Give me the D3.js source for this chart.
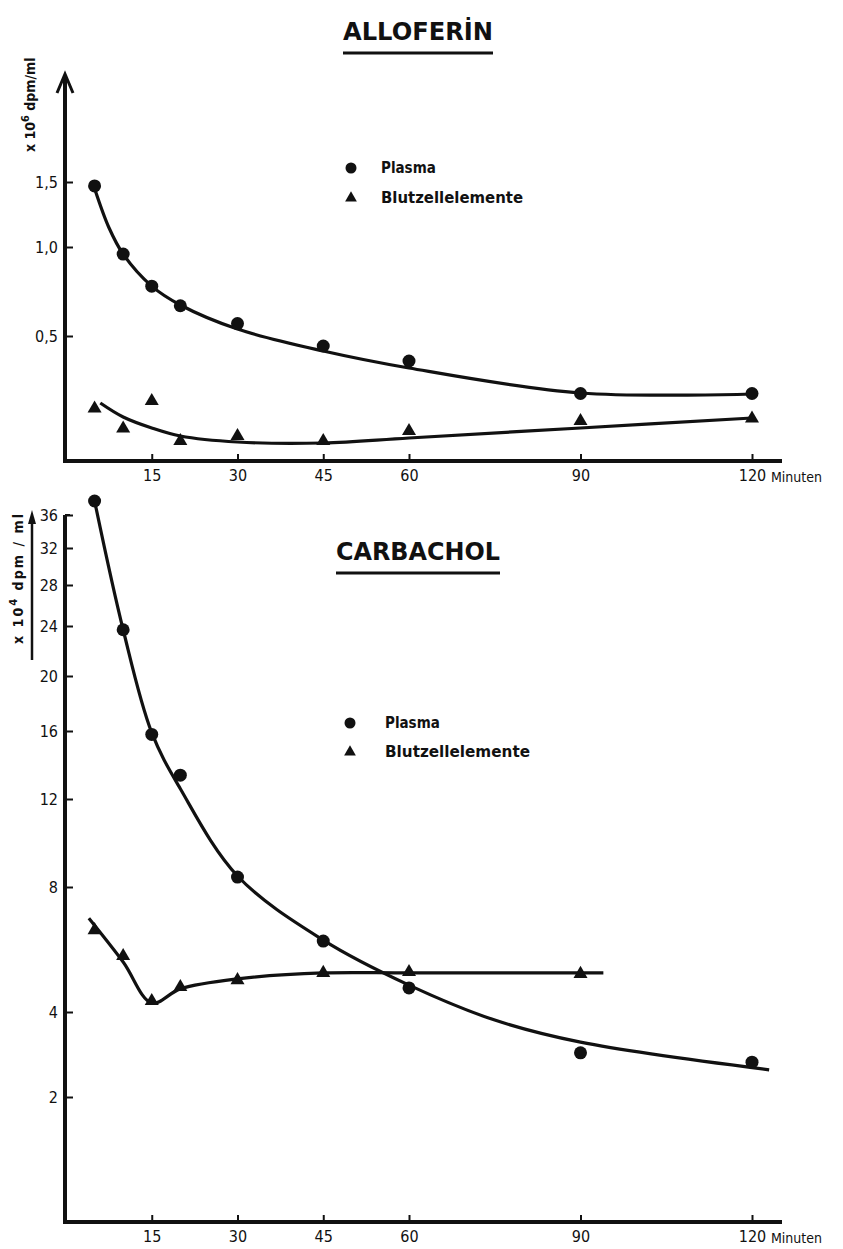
<!DOCTYPE html>
<html><head><meta charset="utf-8">
<script src="https://cdn.jsdelivr.net/npm/d3@7"></script>
<style>
html,body{margin:0;padding:0;background:#fff;}
svg{display:block;}
.lbl{font-family:"DejaVu Sans Condensed","Liberation Sans Narrow","DejaVu Sans",sans-serif;fill:#111;}
</style></head>
<body>
<svg id="c" width="843" height="1249"></svg>
<script>
// ---------------- data ----------------
const times = [5, 10, 15, 20, 30, 45, 60, 90, 120];
const xTicks = [15, 30, 45, 60, 90, 120];

// ALLOFERIN (x 10^6 dpm/ml)
const alloPlasma = [1.47, 0.96, 0.78, 0.67, 0.57, 0.46, 0.40, 0.27, 0.27];
const alloBlut   = [0.21, 0.13, 0.24, 0.08, 0.10, 0.08, 0.12, 0.16, 0.17];
const alloPlasmaFitT = [5, 7.5, 10, 15, 20, 30, 45, 60, 90, 120];
const alloPlasmaFit  = [1.45, 1.15, 0.96, 0.78, 0.674, 0.539, 0.44, 0.372, 0.272, 0.268];
const alloBlutFitT = [6, 10, 15, 20, 30, 45, 60, 90, 120];
const alloBlutFit  = [0.232, 0.176, 0.132, 0.10, 0.076, 0.072, 0.092, 0.132, 0.172];
const alloYTicks = [0.5, 1.0, 1.5];
const alloYTickLabels = ["0,5", "1,0", "1,5"];

// CARBACHOL (x 10^4 dpm/ml)
const carbTimesBlut = [5, 10, 15, 20, 30, 45, 60, 90];
const carbPlasma = [37.7, 23.7, 15.8, 13.4, 8.45, 6.27, 4.77, 3.04, 2.82];
const carbBlut   = [6.62, 5.79, 4.35, 4.8, 5.02, 5.25, 5.28, 5.22];
const carbPlasmaFitT = [5, 10, 15, 20, 30, 45, 60, 75, 90, 123];
const carbPlasmaFit  = [37.7, 23.7, 15.9, 12.6, 8.5, 6.3, 4.86, 3.81, 3.29, 2.64];
const carbBlutFitT = [4, 10, 15, 20, 30, 45, 60, 94];
const carbBlutFit  = [7.0, 5.6, 4.29, 4.74, 5.06, 5.25, 5.25, 5.25];
const carbYTicks = [2, 4, 8, 12, 16, 20, 24, 28, 32, 36];

const legendLabels = ["Plasma", "Blutzellelemente"];

// ---------------- drawing ----------------
const svg = d3.select("#c");
svg.append("rect").attr("width", 843).attr("height", 1249).attr("fill", "#fff");

const x = d3.scaleLinear().domain([0, 120]).range([66, 752]);
const yA = d3.scaleLinear().domain([0, 0.5, 1.0, 1.5]).range([461, 336, 247, 182]);
const yC = d3.scaleLinear().domain([2, 4, 8, 12, 16, 20, 24, 28, 32, 36])
  .range([1097, 1012, 887, 799, 731, 676, 626, 585, 548, 515]);

const ink = "#111";
const curve = d3.curveCatmullRom.alpha(0.5);

function panel(o) {
  const g = svg.append("g");
  // x axis
  const xa = g.append("g").attr("transform", `translate(0,${o.x0})`)
    .call(d3.axisBottom(x).tickValues(xTicks).tickSize(-7).tickPadding(9).tickFormat(d3.format("d")));
  xa.select(".domain").remove();
  xa.selectAll(".tick line").attr("stroke", ink).attr("stroke-width", 2);
  xa.selectAll(".tick text").attr("class", "lbl").attr("font-size", 16).attr("fill", ink);
  g.append("line").attr("x1", 63).attr("x2", 782).attr("y1", o.x0).attr("y2", o.x0)
    .attr("stroke", ink).attr("stroke-width", 4);
  g.append("text").attr("class", "lbl").attr("x", 771).attr("y", o.x0 + 21)
    .attr("font-size", 14).text("Minuten");

  // y axis
  const ya = g.append("g").attr("transform", "translate(65,0)")
    .call(d3.axisLeft(o.y).tickValues(o.yTicks).tickSize(-8).tickPadding(7)
      .tickFormat((d, i) => o.yLabels ? o.yLabels[i] : d));
  ya.select(".domain").remove();
  ya.selectAll(".tick line").attr("stroke", ink).attr("stroke-width", 2);
  ya.selectAll(".tick text").attr("class", "lbl").attr("font-size", 16).attr("fill", ink);
  g.append("line").attr("x1", 65).attr("x2", 65).attr("y1", o.x0 + 2).attr("y2", o.yTop)
    .attr("stroke", ink).attr("stroke-width", 4);

  // fitted curves
  const line = d3.line().x(d => x(d[0])).y(d => o.y(d[1])).curve(curve);
  g.append("path").datum(d3.zip(o.pFitT, o.pFit)).attr("d", line)
    .attr("fill", "none").attr("stroke", ink).attr("stroke-width", 3.2);
  g.append("path").datum(d3.zip(o.bFitT, o.bFit)).attr("d", line)
    .attr("fill", "none").attr("stroke", ink).attr("stroke-width", 3.2);

  // points
  g.selectAll("circle.p").data(d3.zip(times, o.p)).join("circle")
    .attr("cx", d => x(d[0])).attr("cy", d => o.y(d[1])).attr("r", 6.5).attr("fill", ink);
  const tri = d3.symbol().type(d3.symbolTriangle).size(85);
  g.selectAll("path.b").data(d3.zip(o.bT, o.b)).join("path")
    .attr("d", tri).attr("transform", d => `translate(${x(d[0])},${o.y(d[1])})`).attr("fill", ink);

  // title
  g.append("text").attr("x", o.title[1]).attr("y", o.title[2])
    .attr("font-family", "'DejaVu Sans',sans-serif").attr("font-weight", "bold")
    .attr("font-size", o.title[4]).attr("textLength", o.title[3]).attr("lengthAdjust", "spacingAndGlyphs")
    .attr("fill", ink).text(o.title[0]);
  g.append("line").attr("x1", o.title[1]).attr("x2", o.title[1] + o.title[3])
    .attr("y1", o.title[5]).attr("y2", o.title[5]).attr("stroke", ink).attr("stroke-width", 3);

  // legend
  const lg = g.append("g");
  lg.append("circle").attr("cx", o.leg[0]).attr("cy", o.leg[1]).attr("r", 5.5).attr("fill", ink);
  lg.append("path").attr("d", d3.symbol().type(d3.symbolTriangle).size(60))
    .attr("transform", `translate(${o.leg[0]},${o.leg[1] + o.leg[3]})`).attr("fill", ink);
  lg.append("text").attr("class", "lbl").attr("x", o.leg[2]).attr("y", o.leg[1] + 5)
    .attr("font-size", 15).attr("font-weight", "bold").text(legendLabels[0]);
  lg.append("text").attr("class", "lbl").attr("x", o.leg[2]).attr("y", o.leg[1] + o.leg[3] + 5)
    .attr("font-size", 15).attr("font-weight", "bold")
    .attr("textLength", o.leg[4]).attr("lengthAdjust", "spacingAndGlyphs").text(legendLabels[1]);
  return g;
}

const gA = panel({
  x0: 461, y: yA, yTop: 76, yTicks: alloYTicks, yLabels: alloYTickLabels,
  p: alloPlasma, b: alloBlut, bT: times,
  pFitT: alloPlasmaFitT, pFit: alloPlasmaFit, bFitT: alloBlutFitT, bFit: alloBlutFit,
  title: ["ALLOFERİN", 343, 40, 150, 24, 53],
  leg: [351, 168, 381, 30, 142]
});
// arrow head on top y axis
gA.append("path").attr("d", "M57,93 L65,74 L73,93").attr("fill", "none")
  .attr("stroke", ink).attr("stroke-width", 3).attr("stroke-linejoin", "miter");
// y label
gA.append("text").attr("class", "lbl").attr("transform", "translate(35,152) rotate(-90)")
  .attr("font-size", 14).attr("font-weight", "bold")
  .html('x 10<tspan dy="-6" font-size="11">6</tspan><tspan dy="6"> dpm/ml</tspan>');

const gC = panel({
  x0: 1222, y: yC, yTop: 515, yTicks: carbYTicks, yLabels: null,
  p: carbPlasma, b: carbBlut, bT: carbTimesBlut,
  pFitT: carbPlasmaFitT, pFit: carbPlasmaFit, bFitT: carbBlutFitT, bFit: carbBlutFit,
  title: ["CARBACHOL", 336, 560, 164, 24, 573],
  leg: [350, 723, 385, 29, 145]
});
gC.append("line").attr("x1", 65).attr("x2", 70).attr("y1", 515).attr("y2", 515)
  .attr("stroke", ink).attr("stroke-width", 2);
// arrow next to y label
gC.append("line").attr("x1", 32).attr("x2", 32).attr("y1", 660).attr("y2", 520)
  .attr("stroke", ink).attr("stroke-width", 2.5);
gC.append("path").attr("d", "M28,524 L32,510 L36,524 Z").attr("fill", ink);
gC.append("text").attr("class", "lbl").attr("transform", "translate(23,644) rotate(-90)")
  .attr("font-size", 14).attr("font-weight", "bold").attr("textLength", 130).attr("lengthAdjust", "spacing")
  .html('x 10<tspan dy="-6" font-size="11">4</tspan><tspan dy="6">  dpm / ml</tspan>');
</script>
</body></html>
